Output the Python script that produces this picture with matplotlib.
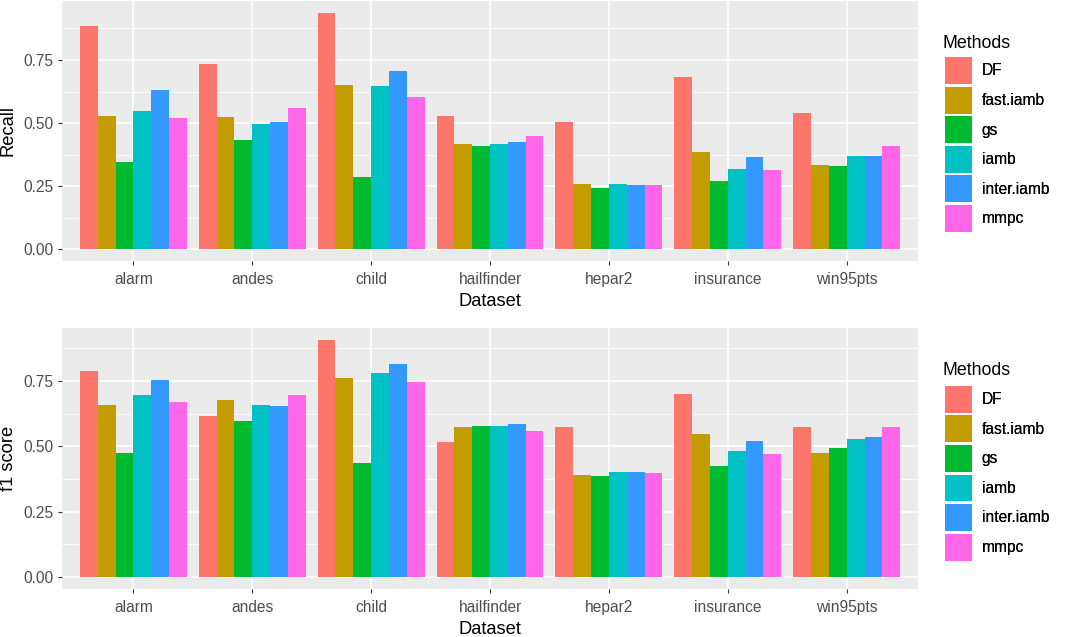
import matplotlib as mpl
import matplotlib.pyplot as plt
from matplotlib.patches import Patch
from matplotlib.ticker import MultipleLocator
import numpy as np

plt.rcParams['font.family'] = ['Liberation Sans', 'DejaVu Sans']

datasets = ['alarm', 'andes', 'child', 'hailfinder', 'hepar2', 'insurance', 'win95pts']
methods = ['DF', 'fast.iamb', 'gs', 'iamb', 'inter.iamb', 'mmpc']
colors = ['#FC766C', '#C29C00', '#00BA2F', '#00C1C4', '#3399FF', '#FF66E8']

# recall per method, one value per dataset
recall_DF = [0.886, 0.734, 0.937, 0.528, 0.503, 0.683, 0.538]
recall_fast = [0.528, 0.524, 0.651, 0.417, 0.258, 0.385, 0.335]
recall_gs = [0.344, 0.431, 0.288, 0.411, 0.243, 0.269, 0.329]
recall_iamb = [0.549, 0.497, 0.647, 0.417, 0.259, 0.319, 0.370]
recall_inter = [0.631, 0.503, 0.708, 0.426, 0.253, 0.365, 0.370]
recall_mmpc = [0.519, 0.560, 0.605, 0.447, 0.253, 0.313, 0.411]

# f1 score
f1_DF = [0.790, 0.618, 0.908, 0.518, 0.573, 0.702, 0.573]
f1_fast = [0.657, 0.676, 0.761, 0.575, 0.392, 0.549, 0.475]
f1_gs = [0.475, 0.599, 0.436, 0.578, 0.386, 0.427, 0.496]
f1_iamb = [0.697, 0.657, 0.781, 0.578, 0.401, 0.482, 0.530]
f1_inter = [0.755, 0.656, 0.815, 0.587, 0.401, 0.520, 0.535]
f1_mmpc = [0.671, 0.697, 0.746, 0.558, 0.397, 0.470, 0.573]

recall = [recall_DF, recall_fast, recall_gs, recall_iamb, recall_inter, recall_mmpc]
f1 = [f1_DF, f1_fast, f1_gs, f1_iamb, f1_inter, f1_mmpc]

W, H = 1072, 637
fig = plt.figure(figsize=(W / 100, H / 100), dpi=100)

def panel(rect, series, ylabel):
    ax = fig.add_axes(rect)
    ax.set_facecolor('#EBEBEB')
    x = np.arange(1, len(datasets) + 1)
    bw = 0.9 / len(methods)
    for i, vals in enumerate(series):
        ax.bar(x - 0.45 + bw * (i + 0.5), vals, width=bw, color=colors[i], linewidth=0, zorder=3)
    top = max(max(v) for v in series)
    ax.set_ylim(-0.05 * top, top * 1.05)
    ax.set_xlim(0.4, len(datasets) + 0.6)
    ax.yaxis.set_major_locator(MultipleLocator(0.25))
    ax.yaxis.set_minor_locator(MultipleLocator(0.125))
    ax.set_yticks([0, 0.25, 0.5, 0.75])
    ax.set_yticklabels(['0.00', '0.25', '0.50', '0.75'])
    ax.set_xticks(x)
    ax.set_xticklabels(datasets)
    ax.grid(which='major', color='white', linewidth=1.1, zorder=0)
    ax.grid(which='minor', axis='y', color='white', linewidth=0.55, zorder=0)
    ax.tick_params(which='major', length=3, width=0.8, color='#333333', labelsize=11.2,
                   labelcolor='#4D4D4D', pad=3)
    ax.tick_params(axis='x', which='major', pad=5)
    ax.tick_params(which='minor', length=0)
    for s in ax.spines.values():
        s.set_visible(False)
    ax.set_xlabel('Dataset', fontsize=13.2, color='black', labelpad=4)
    ax.set_ylabel(ylabel, fontsize=13.2, color='black', labelpad=5)
    return ax

ax1 = panel([62 / W, 1 - 261 / H, 856 / W, 260 / H], recall, 'Recall')
ax2 = panel([62 / W, 1 - 589 / H, 856 / W, 261 / H], f1, 'f1 score')

# legends: title baseline and first key top in pixels
handles = [Patch(facecolor=c, edgecolor='none') for c in colors]
for title_base, key_top in [(47.5, 57), (375, 385.7)]:
    fig.text(943 / W, 1 - title_base / H, 'Methods', fontsize=12.8, va='baseline', ha='left')
    leg = fig.legend(handles, methods, loc='upper left',
                     bbox_to_anchor=(945 / W, 1 - key_top / H), frameon=False,
                     fontsize=11.2, handlelength=1.74, handleheight=2.29,
                     labelspacing=0.17, handletextpad=0.62,
                     borderpad=0, borderaxespad=0)
    fig.add_artist(leg)

fig.savefig('out.png', dpi=100)
